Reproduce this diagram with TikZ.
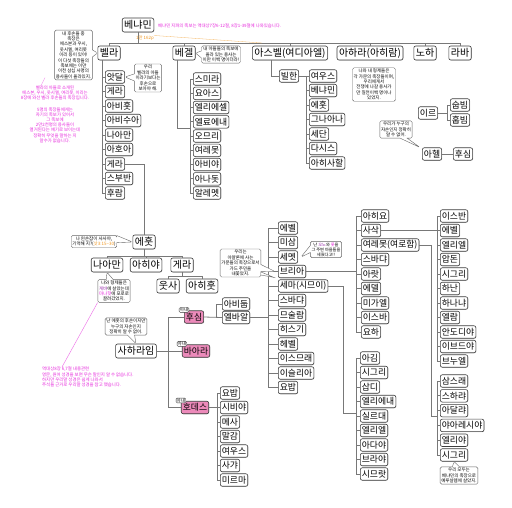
\documentclass[tikz,border=0pt]{standalone}
\usepackage{fontspec}
\setmainfont{Noto Sans CJK KR}
\usetikzlibrary{shapes.callouts,shadows}
\definecolor{pinkfill}{RGB}{236,138,186}
\definecolor{magtext}{RGB}{230,40,220}
\definecolor{lncol}{RGB}{120,120,120}
\definecolor{bdcol}{RGB}{60,60,60}
\definecolor{orangetext}{RGB}{240,150,30}
\definecolor{purpletext}{RGB}{150,40,170}
\tikzset{
 kbox/.style={draw=bdcol, line width=0.6pt, rounded corners=2pt, fill=white, inner xsep=1.6pt, inner ysep=0pt, minimum height=12.5pt, font=\fontsize{8.8}{9}\selectfont, drop shadow={shadow xshift=0.5pt, shadow yshift=-0.5pt, opacity=0.35}},
 tbox/.style={kbox, minimum height=14pt, inner xsep=2pt, font=\fontsize{10}{10}\selectfont},
 pbox/.style={kbox, fill=pinkfill},
 wifetag/.style={draw=bdcol, line width=0.35pt, rounded corners=1pt, fill=white, inner xsep=0.6pt, inner ysep=0.3pt, font=\fontsize{4.6}{5}\selectfont},
 note/.style={rectangle callout, draw=black!60, line width=0.4pt, rounded corners=1.5pt, fill=white, align=center, inner xsep=1.2pt, inner ysep=1.2pt, font=\fontsize{4.5}{5.4}\selectfont},
 pnote/.style={rectangle, draw=black!60, line width=0.4pt, rounded corners=1.5pt, fill=white, align=center, inner xsep=1.2pt, inner ysep=1.2pt, font=\fontsize{4.5}{5.4}\selectfont},
 ln/.style={draw=lncol, line width=0.8pt},
 mgt/.style={text=magtext, align=center, inner sep=0pt, font=\fontsize{4.4}{5.2}\selectfont},
}
\begin{document}
\begin{tikzpicture}[x=1pt,y=-1pt]
\useasboundingbox (0,0) rectangle (512,507);
\fill[white] (0,0) rectangle (512,507);

% ---------- top level ----------
\node[tbox] (bnm) at (138,25) {베냐민};
\node[tbox] (bela) at (109,53) {벨라};
\node[tbox] (begel) at (184,53) {베겔};
\node[tbox] (asbel) at (290,53) {아스벨(여디아엘)};
\node[tbox] (ahara) at (370,53) {아하라(아히람)};
\node[tbox] (noha) at (425,53) {노하};
\node[tbox] (raba) at (460,53) {라바};
\coordinate (bar) at (0,43);
\draw[ln] (bnm.south) -- (bnm.south |- bar);
\draw[ln] (bela.north |- bar) -- (raba.north |- bar);
\foreach \n in {bela,begel,asbel,ahara,noha,raba} \draw[ln] (\n.north |- bar) -- (\n.north);

\node[mgt, anchor=west] (hdr) at (158,26) {베냐민 지파의 족보는 역대상7장6-12절, 8장1-39절에 나와있습니다.};
\node[text=orangetext, inner sep=0pt, font=\fontsize{4.4}{5}\selectfont] (pg) at (145,38) {1만 162p};
\coordinate (pgend) at (262,43);
\draw[orangetext!70, line width=0.3pt] (pg.north east) -- (pgend);

% ---------- Bela ----------
\coordinate (bk1) at (102,0);
\foreach \nm/\yy/\tx in {ba/77/앗달, bb/91.5/게라, bc/106/아비훗, bd/120.5/아비수아, be/135/나아만, bf/149.5/아호아, bg/164/게라, bh/178.5/스부반, bi/193/후람}{
  \node[kbox,anchor=west] (\nm) at (105,\yy) {\tx};
  \draw[ln] (\nm.west) -- (\nm.west -| bk1);
}
\draw[ln] (bela.south -| bk1) -- (bi.west -| bk1);

\node[note, callout absolute pointer={(bela.west)}] (n1) at (73.5,55) {내 후손들 중\\족장은\\에스본과 우시,\\웃시엘, 여리못\\이리 등이 있어!\\이 다섯 족장들의\\족보에는 이만\\이천 삼십 사명의\\용사들이 올라있지.};
\node[note, callout absolute pointer={(ba.east)}] (n2) at (148,78) {우리\\벨라의 아들\\이라기보다는\\후손으로\\보아야 해.};

\node[mgt] (m1) at (55,93) {벨라의 아들로 소개된\\에스본, 우시, 웃시엘, 여리못, 이리는\\8장에 와선 벨라 후손들의 족장입니다.};
\node[mgt] (m2) at (55,125) {5명의 족장들에게는\\자기의 족보가 있어서\\그 족보에\\2만2천명의 용사들이\\열거된다는 얘기로 보이는데\\정확히 무엇을 말하는 지\\알수가 없습니다.};
\draw[magtext!70, line width=0.3pt] ([xshift=-14pt]m1.north) -- ([xshift=-10pt,yshift=8pt]m1.north);

% ---------- Becher ----------
\coordinate (bk2) at (190,0);
\foreach \nm/\yy/\tx in {ga/79/스미라, gb/93.3/요아스, gc/107.5/엘리에셀, gd/121.8/엘료에내, ge/136/오므리, gf/150.3/여레못, gg/164.5/아비야, gh/178.8/아나돗, gi/193/알레멧}{
  \node[kbox,anchor=west] (\nm) at (193,\yy) {\tx};
  \draw[ln] (\nm.west) -- (\nm.west -| bk2);
}
\draw[ln] (ga.west -| bk2) -- (gi.west -| bk2);
\coordinate (j1) at (177,128);
\draw[ln] (begel.south -| j1) -- (j1) -- (j1 -| bk2);
\node[note, callout absolute pointer={(begel.east)}] (n3) at (221,54.5) {내 아들들의 족보에\\올라 있는 용사는\\이만 이백 명이더라!};

% ---------- Ashbel ----------
\node[kbox] (bilhan) at (289,76) {빌한};
\coordinate (j2) at (271,76);
\draw[ln] (asbel.south -| j2) -- (j2) -- (bilhan.west);
\coordinate (bk3) at (306,0);
\foreach \nm/\yy/\tx in {ha/76/여우스, hb/90.5/베냐민, hc/105/에훗, hd/119.5/그나아나, he/134/세단, hf/148.5/다시스, hg/163/아히사할}{
  \node[kbox,anchor=west] (\nm) at (309,\yy) {\tx};
  \draw[ln] (\nm.west) -- (\nm.west -| bk3);
}
\draw[ln] (bilhan.east) -- (ha.west -| bk3) -- (hg.west -| bk3);
\node[pnote] (n4) at (374,84.5) {나와 내 형제들은\\각 가문의 족장들이며,\\우리에게서\\전쟁에 나갈 용사가\\만 칠천이백 명이나\\있었지.};

% ---------- Ir / Aher ----------
\node[kbox] (ir) at (428,113) {이르};
\coordinate (bk9) at (447,0);
\node[kbox,anchor=west] (shup) at (450,105) {숩빔};
\node[kbox,anchor=west] (hup) at (450,120) {훕빔};
\draw[ln] (ir.east) -- (ir.east -| bk9);
\draw[ln] (shup.west) -- (shup.west -| bk9) -- (hup.west -| bk9) -- (hup.west);
\node[kbox] (aher) at (432,154) {아헬};
\node[kbox] (hushim2) at (463,154) {후심};
\draw[ln] (aher.east) -- (hushim2.west);
\node[note, callout absolute pointer={([xshift=-2pt]aher.north west)}] (n5) at (396,129.5) {우리가 누구의\\자손인지 정확히\\알 수 없어.};

% ---------- Ehud ----------
\node[tbox] (ehud) at (144,242) {에훗};
\draw[ln] (bg.east) -| (ehud.north);
\node[note, callout absolute pointer={(ehud.west)}] (n6) at (94,241.5) {나 왼손잡이 사사야,\\기억해 지?(\textcolor{orangetext}{삿3:15\textasciitilde30})};
\node[tbox] (naaman) at (107,265) {나아만};
\node[tbox] (ahiya) at (146,265) {아히야};
\node[tbox] (gera2) at (182,265) {게라};
\coordinate (b2) at (0,256);
\draw[ln] (ehud.south) -- (ehud.south |- b2);
\draw[ln] (naaman.north |- b2) -- (gera2.north |- b2);
\foreach \n in {naaman,ahiya,gera2} \draw[ln] (\n.north |- b2) -- (\n.north);
\node[tbox] (uzza) at (168,286) {웃사};
\node[tbox] (ahihud) at (202,286) {아히훗};
\coordinate (b3) at (0,276);
\draw[ln] (gera2.south) -- (gera2.south |- b3);
\draw[ln] (uzza.north |- b3) -- (ahihud.north |- b3);
\foreach \n in {uzza,ahihud} \draw[ln] (\n.north |- b3) -- (\n.north);
\node[note, callout absolute pointer={(naaman.south)}] (n7) at (114,291) {나와 형제들은\\\textcolor{purpletext}{게바}에 살았는데\\\textcolor{magtext}{마나핫}에 포로로\\끌려갔었지.};
\node[mgt, align=left, anchor=north west] (m3) at (42,367) {역대상8장 6,7절 내용관련\\영문, 원어 성경을 보면 무슨 말인지 알 수 없습니다.\\하지만 우리말 성경은 쉽게 나와서\\주석들 근거로 우리말 성경을 참고 했습니다.};
\draw[magtext!70, line width=0.4pt] (n7.south west) -- ([xshift=20pt]m3.north west);

% ---------- Shaharaim ----------
\node[tbox] (shrm) at (136,351) {사하라임};
\node[note, callout absolute pointer={(shrm.north)}] (n8) at (126,326.5) {난 에훗의 후손이지만\\누구의 자손인지\\정확히 알 수 없어.};
\node[pbox] (hsm) at (194,317) {후심};
\node[pbox] (baara) at (196,351) {바아라};
\node[pbox] (hodes) at (195,407.5) {호데스};
\coordinate (vx) at (168,0);
\draw[ln] (hsm.west) -- (hsm.west -| vx) -- (hodes.west -| vx) -- (hodes.west);
\draw[ln] (shrm.east) -- (baara.west);
\node[wifetag] (w1) at ([xshift=0pt,yshift=0.5pt]hsm.north west) {아내};
\node[wifetag] (w2) at ([xshift=0pt,yshift=0.5pt]baara.north west) {아내};
\node[wifetag] (w3) at ([xshift=0pt,yshift=0.5pt]hodes.north west) {아내};

% Hushim kids
\coordinate (bk4) at (216,0);
\node[kbox,anchor=west] (abitub) at (222,304) {아비둡};
\node[kbox,anchor=west] (elpaal) at (222,317.5) {엘바알};
\draw[ln] (hsm.east) -- (elpaal.west);
\draw[ln] (abitub.west) -- (abitub.west -| bk4) -- (elpaal.west -| bk4);

% Elpaal kids
\coordinate (bk5) at (268,0);
\foreach \nm/\yy/\tx in {ea/228/에벨, eb/242.5/미삼, ec/257/세멧, ed/271.5/브리아, ee/286/세마(시므이), ef/300.5/스바댜, eg/315/므술람, eh/329.5/히스기, ei/344/헤벨, ej/358.5/이스므래, ek/373/이슬리아, el/387.5/요밥}{
  \node[kbox,anchor=west] (\nm) at (278,\yy) {\tx};
  \draw[ln] (\nm.west) -- (\nm.west -| bk5);
}
\draw[ln] (ea.west -| bk5) -- (el.west -| bk5);
\draw[ln] (elpaal.east) -- (elpaal.east -| bk5);
\node[note, callout absolute pointer={([xshift=-3pt]ed.west)}] (n9) at (240.5,263) {우리는\\아얄론에 사는\\가문들의 족장으로서\\가드 주민을\\내쫓았지.};
\filldraw[draw=black!60, fill=white, line width=0.4pt] ([yshift=-9pt]n9.east) -- ([xshift=-4pt,yshift=2pt]ee.north west) -- ([yshift=-12pt]n9.east);
\node[note, callout absolute pointer={([xshift=3pt]ec.east)}, font=\fontsize{4.2}{5}\selectfont] (n10) at (326,249.5) {난 \textcolor{purpletext}{오노}와 \textcolor{magtext}{롯}을\\그 주변 마을들을\\세웠다고!!};

% Beriah kids
\coordinate (bk6) at (356,0);
\foreach \nm/\yy/\tx in {ra/216/아히요, rb/230.5/사삭, rc/245/여레못(여로함), rd/259.5/스바댜, re/274/아랏, rf/288.5/에델, rg/303/미가엘, rh/317.5/이스바, ri/332/요하}{
  \node[kbox,anchor=west] (\nm) at (361,\yy) {\tx};
  \draw[ln] (\nm.west) -- (\nm.west -| bk6);
}
\draw[ln] (ra.west -| bk6) -- (ri.west -| bk6);
\draw[ln] (ed.east) -- (ed.east -| bk6);

% Shashak kids
\coordinate (bk7) at (437,0);
\foreach \nm/\yy/\tx in {sa/216/이스반, sb/230.5/에벨, sc/245/엘리엘, sd/259.5/압돈, se/274/시그리, sf/288.5/하난, sg/303/하나냐, sh/317.5/엘람, si/332/안도디야, sj/346.5/이브드야, sk/361/브누엘}{
  \node[kbox,anchor=west] (\nm) at (440,\yy) {\tx};
  \draw[ln] (\nm.west) -- (\nm.west -| bk7);
}
\draw[ln] (sa.west -| bk7) -- (sk.west -| bk7);
\draw[ln] (rb.east) -- (rb.east -| bk7);

% Jeroham kids
\foreach \nm/\yy/\tx in {ya/381/삼스래, yb/395.8/스하랴, yc/410.6/아달랴, yd/425.4/야아레시야, ye/440.2/엘리야, yf/455/시그리}{
  \node[kbox,anchor=west] (\nm) at (440,\yy) {\tx};
  \draw[ln] (\nm.west) -- (\nm.west -| bk7);
}
\draw[ln] (ya.west -| bk7) -- (yf.west -| bk7);
\coordinate (j3) at (431,416);
\draw[ln] (rc.east) -| (j3) -- (j3 -| bk7);
\node[note, callout absolute pointer={(yf.south)}] (n11) at (459,475.5) {우리 모두는\\베냐민의 족장으로\\예루살렘에 살았지.};

% Shema kids
\foreach \nm/\yy/\tx in {ma/358/아김, mb/372.5/시그리, mc/387/삽디, md/401.5/엘리에내, me/416/실르대, mf/430.5/엘리엘, mg/445/아다야, mh/459.5/브라야, mi/474/시므랏}{
  \node[kbox,anchor=west] (\nm) at (360,\yy) {\tx};
  \draw[ln] (\nm.west) -- (\nm.west -| bk6);
}
\draw[ln] (ma.west -| bk6) -- (mi.west -| bk6);
\coordinate (j4) at (343,413);
\draw[ln] (ee.east) -| (j4) -- (j4 -| bk6);

% Hodesh kids
\coordinate (bk8) at (217,0);
\foreach \nm/\yy/\tx in {oa/393/요밥, ob/407.5/시비야, oc/422/메사, od/436.5/말감, oe/451/여우스, of/465.5/사갸, og/480/미르마}{
  \node[kbox,anchor=west] (\nm) at (220,\yy) {\tx};
  \draw[ln] (\nm.west) -- (\nm.west -| bk8);
}
\draw[ln] (oa.west -| bk8) -- (og.west -| bk8);
\draw[ln] (hodes.east) -- (hodes.east -| bk8);
\end{tikzpicture}
\end{document}
